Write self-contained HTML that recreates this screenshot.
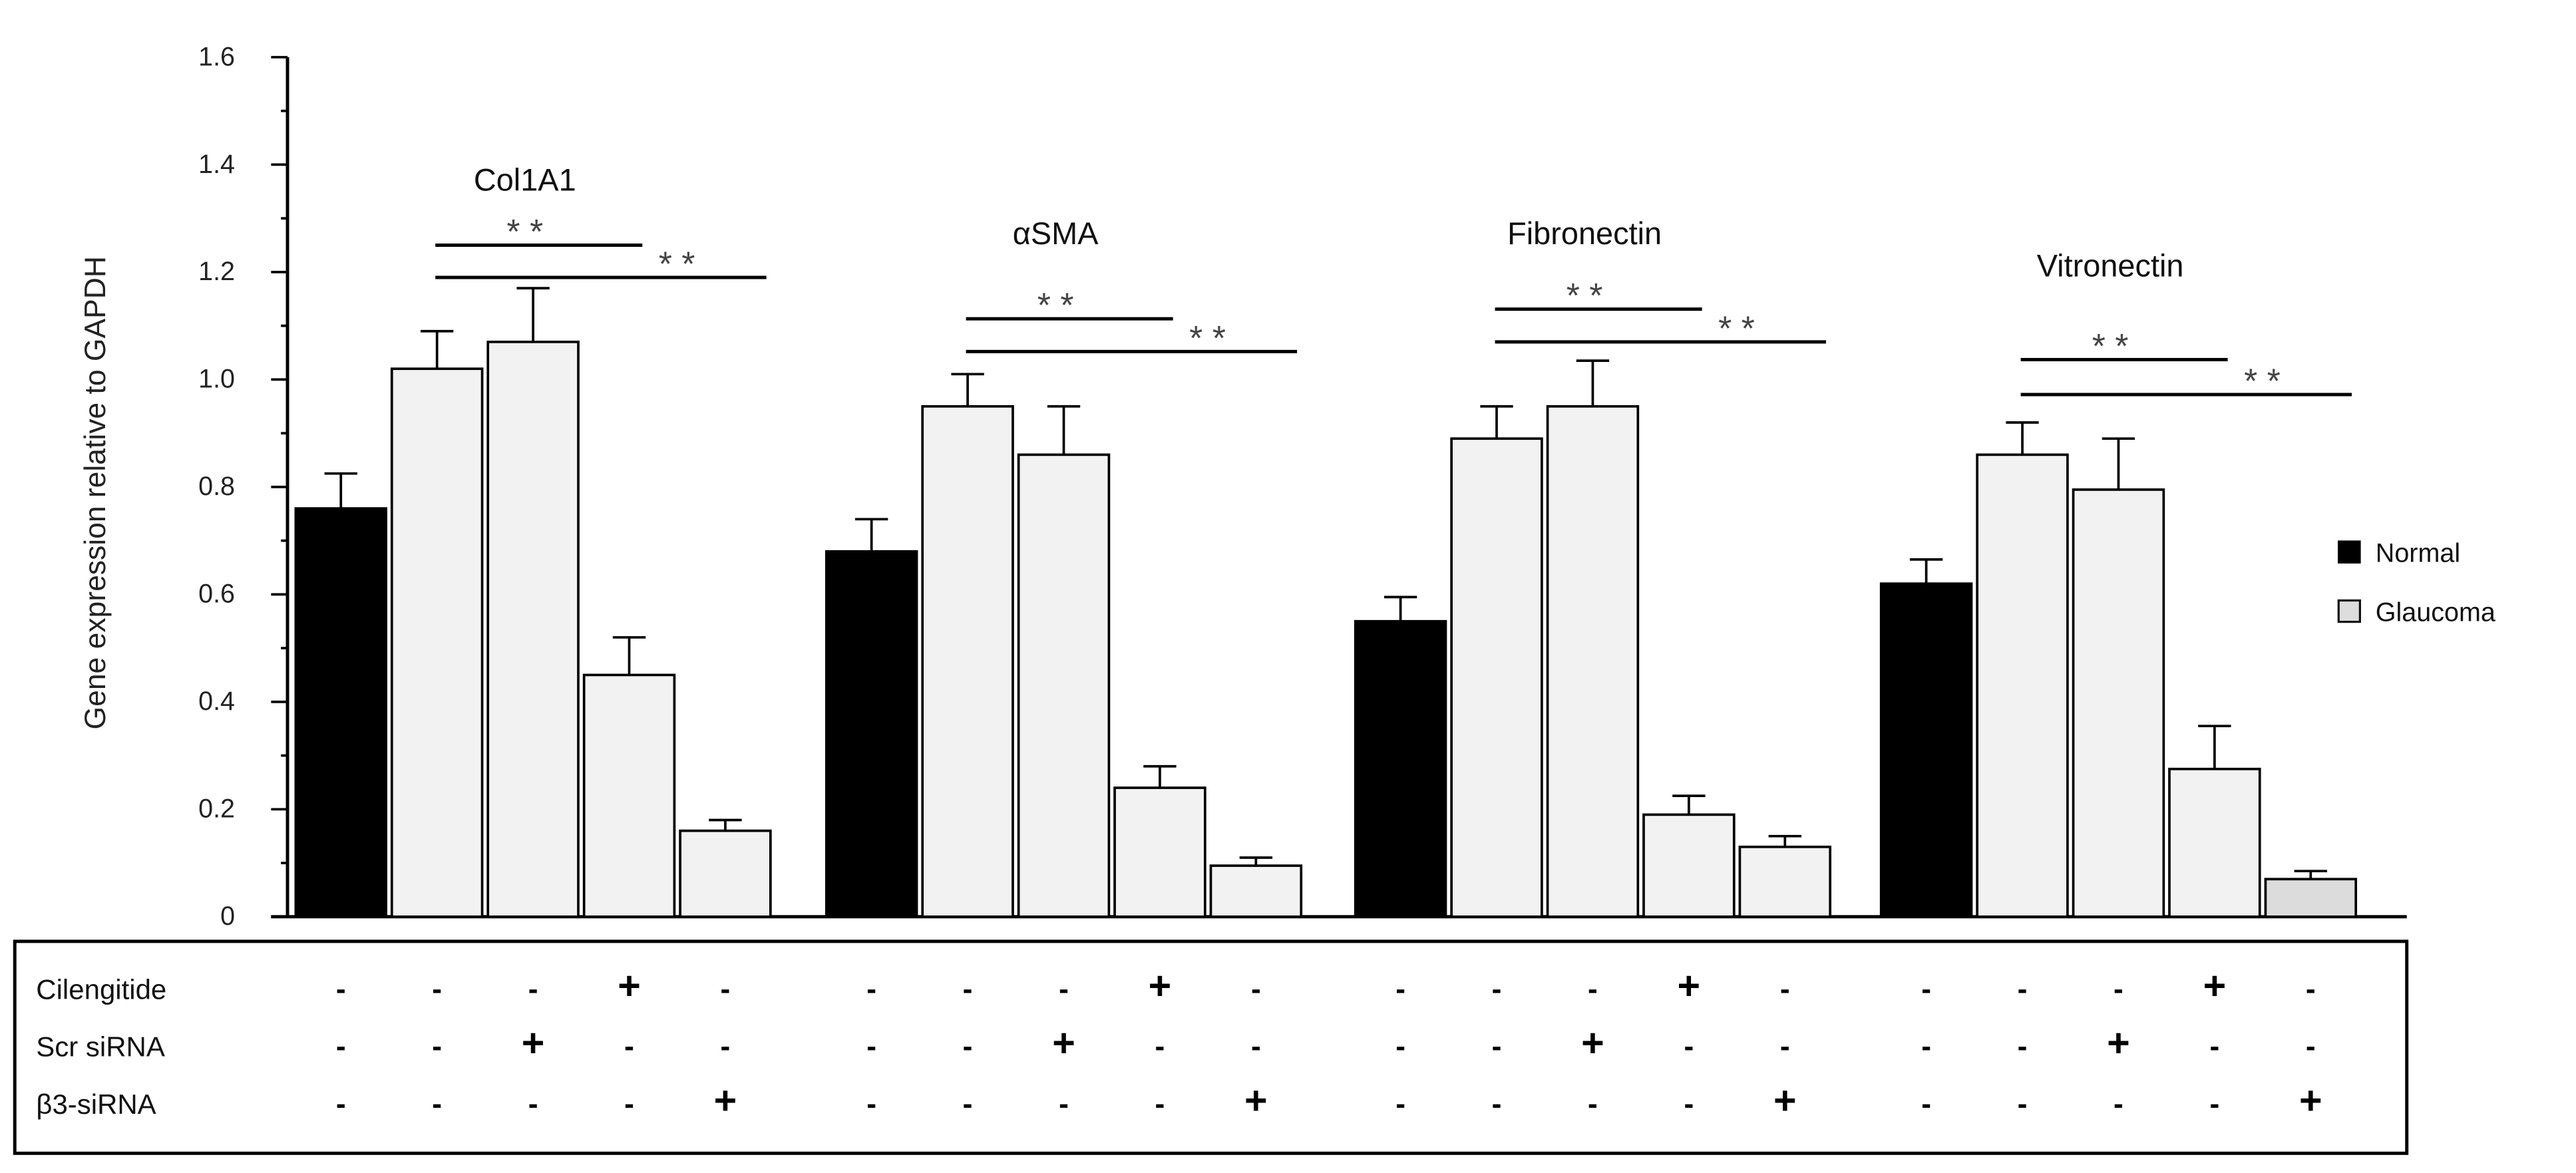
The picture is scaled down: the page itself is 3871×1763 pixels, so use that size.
<!DOCTYPE html>
<html><head><meta charset="utf-8"><style>
html,body{margin:0;padding:0;background:#fff;}
svg{display:block;font-family:"Liberation Sans",sans-serif;}
</style></head><body>
<svg id="chart" width="3871" height="1763" viewBox="0 0 1568 714" preserveAspectRatio="none" xmlns="http://www.w3.org/2000/svg">
<g id="axes"></g>
<g id="bars"></g>
<g id="sig"></g>
<text x="64" y="300" transform="rotate(-90 64 300)" text-anchor="middle" font-size="18" fill="#222">Gene expression relative to GAPDH</text>
<g>
<rect x="1423" y="329" width="14" height="14" fill="#000"/>
<text x="1446" y="342" font-size="16" fill="#111">Normal</text>
<rect x="1423.5" y="365.5" width="13" height="13" fill="#ddd" stroke="#111" stroke-width="1.3"/>
<text x="1446" y="378" font-size="16" fill="#111">Glaucoma</text>
</g>
<g>
<rect x="9" y="573" width="1456" height="129" fill="none" stroke="#000" stroke-width="2"/>
<text x="22" y="608" font-size="17" fill="#111">Cilengitide</text>
<text x="22" y="643" font-size="17" fill="#111">Scr siRNA</text>
<text x="22" y="678" font-size="17" fill="#111">β3-siRNA</text>
<g id="signs"></g>
</g>
</svg>
<script>
const NS="http://www.w3.org/2000/svg";
const genes=["Col1A1","αSMA","Fibronectin","Vitronectin"];
const values=[[0.76,1.02,1.07,0.45,0.16],[0.68,0.95,0.86,0.24,0.095],[0.55,0.89,0.95,0.19,0.13],[0.62,0.86,0.795,0.275,0.07]];
const errTops=[[0.825,1.09,1.17,0.52,0.18],[0.74,1.01,0.95,0.28,0.11],[0.595,0.95,1.035,0.225,0.15],[0.665,0.92,0.89,0.355,0.085]];
const sigY1=[1.25,1.113,1.131,1.037];
const sigY2=[1.19,1.052,1.07,0.972];
const titleVal=[1.37,1.27,1.27,1.21];
const yTicks=[0,0.2,0.4,0.6,0.8,1.0,1.2,1.4,1.6];
const yTickLabels=["0","0.2","0.4","0.6","0.8","1.0","1.2","1.4","1.6"];
const cil=["-","-","-","+","-"], scr=["-","-","+","-","-"], b3=["-","-","-","-","+"];
const y0=558, ppu=327;
const Y=v=>y0-v*ppu;
const groupX=[180,503,825,1145], step=58.5, bw=55;
const X=(g,i)=>groupX[g]+i*step;
function mk(tag,attrs,parent){const e=document.createElementNS(NS,tag);for(const k in attrs)e.setAttribute(k,attrs[k]);parent.appendChild(e);return e;}
const axes=document.getElementById('axes'),bars=document.getElementById('bars'),sig=document.getElementById('sig'),signs=document.getElementById('signs');
let e=mk('line',{x1:175,y1:Y(1.6),x2:175,y2:y0,stroke:'#000','stroke-width':2},axes);


e=mk('line',{x1:165,y1:y0,x2:1465,y2:y0,stroke:'#000','stroke-width':2},axes);


for(let v=0;v<=16;v++){const t=mk('line',{x1:v%2?171:165,y1:Y(v/10),x2:175,y2:Y(v/10),stroke:'#000','stroke-width':1.5},axes);

}
yTicks.forEach((v,i)=>{const t=mk('text',{x:143,y:Y(v)+5,'text-anchor':'end','font-size':16,fill:'#222'},axes);t.textContent=yTickLabels[i];

});
genes.forEach((g,gi)=>{
 values[gi].forEach((v,i)=>{
  const x=X(gi,i),cx=x+bw/2;
  const fill=i===0?'#000':(gi===3&&i===4?'#dcdcdc':'#f2f2f2');
  const r=mk('rect',{x:x,y:Y(v),width:bw,height:v*ppu,fill:fill,stroke:'#000','stroke-width':1.5},bars);
  
  
  const l=mk('path',{d:`M${cx} ${Y(v)}V${Y(errTops[gi][i])}M${cx-10} ${Y(errTops[gi][i])}H${cx+10}`,stroke:'#000','stroke-width':1.5,fill:'none'},bars);
  
  
  [[cil,608],[scr,643],[b3,678]].forEach(([arr,yy])=>{
   const s=mk('text',{x:cx,y:yy,'text-anchor':'middle','font-size':arr[i]==='+'?24:18,'font-weight':'bold',fill:'#000'},signs);s.textContent=arr[i];
   
   
  });
 });
 const t=mk('text',{x:X(gi,2)+bw/2-5,y:Y(titleVal[gi])+6,'text-anchor':'middle','font-size':19,fill:'#111'},sig);t.textContent=g;
 
 
 const xs=X(gi,1)+bw/2-1;
 const l1=mk('line',{x1:xs,y1:Y(sigY1[gi]),x2:X(gi,3)+bw/2+8,y2:Y(sigY1[gi]),stroke:'#000','stroke-width':2},sig);
 
 
 const l2=mk('line',{x1:xs,y1:Y(sigY2[gi]),x2:X(gi,4)+bw/2+25,y2:Y(sigY2[gi]),stroke:'#000','stroke-width':2},sig);
 
 
 const s1=mk('text',{x:X(gi,2)+bw/2-5,y:Y(sigY1[gi])-1,'text-anchor':'middle','font-size':21,fill:'#444'},sig);s1.textContent='* *';
 
 
 const s2=mk('text',{x:X(gi,4)-2,y:Y(sigY2[gi])-1,'text-anchor':'middle','font-size':21,fill:'#444'},sig);s2.textContent='* *';
 
 
});
</script>
</body></html>
